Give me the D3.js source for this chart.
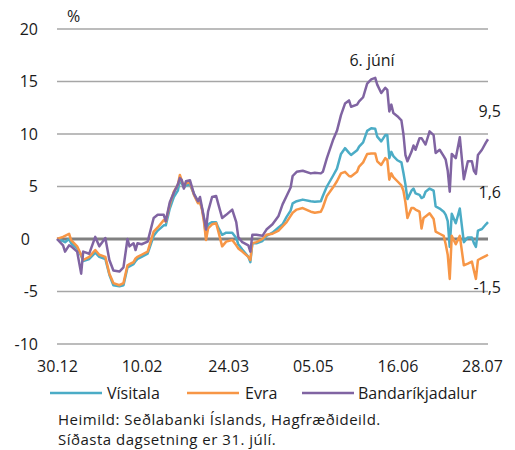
<!DOCTYPE html>
<html>
<head>
<meta charset="utf-8">
<script src="https://cdn.jsdelivr.net/npm/d3@7"></script>
<style>
  body { margin: 0; background: #fff; }
  svg text { font-family: "Open Sans", sans-serif; fill: #1a1a1a; }
</style>
</head>
<body>
<svg id="chart" width="515" height="450"></svg>
<script>
// ─── data ──────────────────────────────────────────────
const dates = [
  '2019-12-30','2020-01-02','2020-01-03','2020-01-05','2020-01-06','2020-01-09','2020-01-11','2020-01-12',
  '2020-01-15','2020-01-18','2020-01-20','2020-01-23','2020-01-25','2020-01-27','2020-01-30','2020-02-01',
  '2020-02-03','2020-02-04','2020-02-06','2020-02-07','2020-02-08','2020-02-10','2020-02-13','2020-02-16',
  '2020-02-18','2020-02-21','2020-02-22','2020-02-24','2020-02-26','2020-02-28','2020-02-29','2020-03-01',
  '2020-03-02','2020-03-03','2020-03-05','2020-03-07','2020-03-09','2020-03-10','2020-03-11','2020-03-12',
  '2020-03-13','2020-03-14','2020-03-16','2020-03-18','2020-03-19','2020-03-21','2020-03-23','2020-03-26',
  '2020-03-28','2020-03-29','2020-03-31','2020-04-03','2020-04-04','2020-04-05','2020-04-07','2020-04-10',
  '2020-04-12','2020-04-15','2020-04-18','2020-04-20','2020-04-22','2020-04-24','2020-04-25','2020-04-27',
  '2020-04-30','2020-05-04','2020-05-06','2020-05-09','2020-05-10','2020-05-12','2020-05-15','2020-05-17',
  '2020-05-19','2020-05-21','2020-05-23','2020-05-24','2020-05-27','2020-05-28','2020-05-30','2020-06-01',
  '2020-06-03','2020-06-05','2020-06-06','2020-06-08','2020-06-10','2020-06-11','2020-06-12','2020-06-13',
  '2020-06-14','2020-06-16','2020-06-18','2020-06-19','2020-06-20','2020-06-21','2020-06-23','2020-06-24',
  '2020-06-25','2020-06-27','2020-06-28','2020-06-29','2020-06-30','2020-07-02','2020-07-04','2020-07-05',
  '2020-07-07','2020-07-09','2020-07-10','2020-07-11','2020-07-12','2020-07-13','2020-07-15','2020-07-17',
  '2020-07-19','2020-07-21','2020-07-23','2020-07-24','2020-07-25','2020-07-26','2020-07-28','2020-07-30',
  '2020-07-31'
];

const visitala = [
  0, -0.2, -0.3, 0, -0.4, -0.9, -1.6, -2.1,
  -1.9, -1.3, -1.7, -1.9, -3.4, -4.4, -4.5, -4.4,
  -2.7, -2.6, -2.4, -2.1, -1.9, -1.7, -1.4, 0.3,
  0.8, 1.3, 1.3, 2.9, 4.0, 4.6, 5.6, 5.3,
  4.9, 5.1, 5.2, 4.3, 3.5, 3.6, 2.9, 1.9,
  0.2, 1.4, 1.6, 1.6, 1.1, 0.4, 0.6, 0.6,
  0.1, -0.5, -1.0, -1.7, -2.2, -0.4, -0.4, -0.2,
  0.3, 0.6, 1.1, 1.4, 2.1, 2.7, 3.4, 3.6,
  3.75, 3.6, 3.55, 3.6, 4.1, 5.0, 6.0, 6.7,
  8.1, 8.65, 8.2, 8.0, 8.45, 8.8, 9.2, 10.3,
  10.55, 10.5, 9.75, 9.3, 9.9, 9.9, 7.7, 8.3,
  7.9, 7.5, 7.3, 6.3, 5.2, 3.8, 4.6, 4.8,
  4.35, 4.2, 3.9, 4.0, 4.5, 4.8, 4.6, 3.1,
  2.9, 2.6, 2.3, 1.7, -0.75, 2.4, 1.5, 2.9,
  -0.3, 0.15, 0.15, -0.4, -0.75, 0.8, 0.95, 1.4,
  1.6
];

const evra = [
  0, 0.2, 0.3, 0.5, -0.1, -0.7, -1.5, -2.0,
  -1.7, -1.05, -1.5, -1.7, -3.3, -4.2, -4.4, -4.2,
  -2.5, -2.4, -2.2, -1.85, -1.7, -1.5, -1.2, 0.7,
  1.1, 1.8, 1.65, 3.3, 4.5, 5.15, 6.1, 5.5,
  5.0, 5.3, 5.4, 4.2, 3.4, 3.5, 2.8, 1.6,
  -0.1, 1.0, 1.4, 1.5, 0.8, -0.7, -0.25, -0.1,
  -0.6, -0.9, -1.2, -1.7, -2.0, -0.4, -0.3, 0,
  0.4, 0.5, 0.8, 1.2, 1.6, 2.2, 2.5, 2.8,
  2.95, 2.6, 2.5, 2.6, 3.0, 4.1, 4.9, 5.5,
  6.25, 6.4, 6.0, 5.95, 6.4, 6.9, 7.3, 8.1,
  8.15, 8.15, 7.4, 7.05, 7.7, 7.55, 5.65, 6.25,
  5.9, 5.5, 5.1, 4.6, 3.5, 2.0, 2.95, 2.95,
  2.8, 2.6, 1.0, 2.0, 2.15, 2.45, 1.9, 0.7,
  0.5, 0.3, -0.5, -1.5, -3.8, 0.3, -0.5, 0.3,
  -2.5, -2.35, -2.15, -3.0, -3.8, -2.0, -1.8, -1.6,
  -1.5
];

const bandarikjadalur = [
  0, -0.6, -1.2, -0.6, -0.7, -1.2, -3.3, -1.2,
  -1.4, 0.2, -0.7, 0.1, -2.0, -3.0, -3.1, -2.7,
  0, -0.7, -0.4, -1.05, -0.4, -0.5, -0.25, 2.0,
  2.3, 2.3, 1.7, 3.5, 4.4, 5.2, 5.8, 5.6,
  4.8, 5.5, 5.6, 4.3, 3.6, 4.0, 3.0, 2.0,
  0.9, 2.6, 4.0, 4.1, 3.4, 2.0, 2.3, 2.8,
  1.6, 0.2, -0.3, -0.6, -1.2, 0.4, 0.4, 0.3,
  0.9, 1.4, 2.2, 3.3, 4.1, 4.9, 6.0, 6.4,
  6.5, 6.25, 6.3, 6.25, 6.4, 7.7, 9.4, 10.3,
  11.8, 12.9, 13.2, 12.6, 12.8, 13.1, 13.5, 14.8,
  15.2, 15.35, 14.7, 13.9, 14.4, 14.2, 12.15, 12.8,
  12.0, 11.7, 11.3, 10.0, 8.0, 7.4, 8.3, 8.9,
  8.5, 9.6, 9.6, 9.3, 9.0, 10.25, 9.9, 8.2,
  8.5, 7.9, 7.55, 6.5, 4.5, 8.1, 7.7, 9.7,
  5.7, 7.4, 7.4, 6.5, 6.2, 8.0, 8.5, 9.2,
  9.5
];

const seriesNames = ['Vísitala', 'Evra', 'Bandaríkjadalur'];
const seriesColors = ['#4BACC6', '#F79646', '#8064A2'];
const xTickDates = ['2019-12-30', '2020-02-10', '2020-03-24', '2020-05-05', '2020-06-16', '2020-07-28'];
const yTicks = [-10, -5, 0, 5, 10, 15, 20];
const endLabels = ['1,6', '-1,5', '9,5'];
const peakLabel = '6. júní';
const sourceLines = ['Heimild: Seðlabanki Íslands, Hagfræðideild.', 'Síðasta dagsetning er 31. júlí.'];

// ─── setup ─────────────────────────────────────────────
const parse = d3.timeParse('%Y-%m-%d');
const fmt = d3.timeFormat('%d.%m');
const xDates = dates.map(parse);
const allSeries = [visitala, evra, bandarikjadalur];

const svg = d3.select('#chart');
const plotL = 57, plotR = 488, plotT = 29, plotB = 344;

const x = d3.scaleTime()
  .domain([parse('2019-12-30'), parse('2020-07-31')])
  .range([plotL, plotR]);
const y = d3.scaleLinear().domain([-10, 20]).range([plotB, plotT]);

// gridlines
svg.append('g').selectAll('line')
  .data(yTicks.filter(t => t !== 0))
  .enter().append('line')
  .attr('x1', plotL).attr('x2', plotR)
  .attr('y1', d => y(d)).attr('y2', d => y(d))
  .attr('stroke', '#a6a6a6').attr('stroke-width', 1.5);

// y axis labels (plain hyphen for negatives, as in the original)
const yAxis = svg.append('g')
  .attr('transform', `translate(${plotL},0)`)
  .call(d3.axisLeft(y).tickValues(yTicks).tickSize(0).tickPadding(19).tickFormat(d => String(d)));
yAxis.select('.domain').remove();
yAxis.selectAll('text')
  .style('font-size', '16px')
  .attr('fill', '#1a1a1a')
  .attr('x', d => d === 0 ? -27 : -19);

// x axis labels
const xAxis = svg.append('g')
  .attr('transform', `translate(0,${plotB})`)
  .call(d3.axisBottom(x).tickValues(xTickDates.map(parse)).tickSize(0).tickPadding(17).tickFormat(fmt));
xAxis.select('.domain').remove();
xAxis.selectAll('text').style('font-size', '16px').attr('fill', '#1a1a1a');

// zero line
svg.append('line')
  .attr('x1', plotL).attr('x2', plotR)
  .attr('y1', y(0)).attr('y2', y(0))
  .attr('stroke', '#808080').attr('stroke-width', 3);

// series lines
const line = d3.line()
  .x((d, i) => x(xDates[i]))
  .y(d => y(d));

allSeries.forEach((s, k) => {
  svg.append('path')
    .datum(s)
    .attr('d', line)
    .attr('fill', 'none')
    .attr('stroke', seriesColors[k])
    .attr('stroke-width', 2.5)
    .attr('stroke-linejoin', 'round');
});

// "%" unit
svg.append('text').attr('x', 67).attr('y', 22).style('font-size', '16px').text('%');

// peak annotation
svg.append('text').attr('x', 372).attr('y', 66).attr('text-anchor', 'middle')
  .style('font-size', '16px').text(peakLabel);

// end value labels
const endY = [198, 293, 117];
endLabels.forEach((t, k) => {
  svg.append('text').attr('x', 501).attr('y', endY[k]).attr('text-anchor', 'end')
    .style('font-size', '16px').text(t);
});

// legend
const legendX = [[50, 107], [187, 245], [302, 358]];
const legend = svg.append('g');
seriesNames.forEach((n, k) => {
  legend.append('line')
    .attr('x1', legendX[k][0]).attr('x2', legendX[k][0] + 52)
    .attr('y1', 393).attr('y2', 393)
    .attr('stroke', seriesColors[k]).attr('stroke-width', 2.5);
  legend.append('text').attr('x', legendX[k][1]).attr('y', 399)
    .style('font-size', '16px').text(n);
});

// source lines
sourceLines.forEach((t, i) => {
  svg.append('text').attr('x', 58).attr('y', 424.5 + i * 20.5)
    .style('font-size', '15px').style('letter-spacing', '0.5px').text(t);
});
</script>
</body>
</html>
